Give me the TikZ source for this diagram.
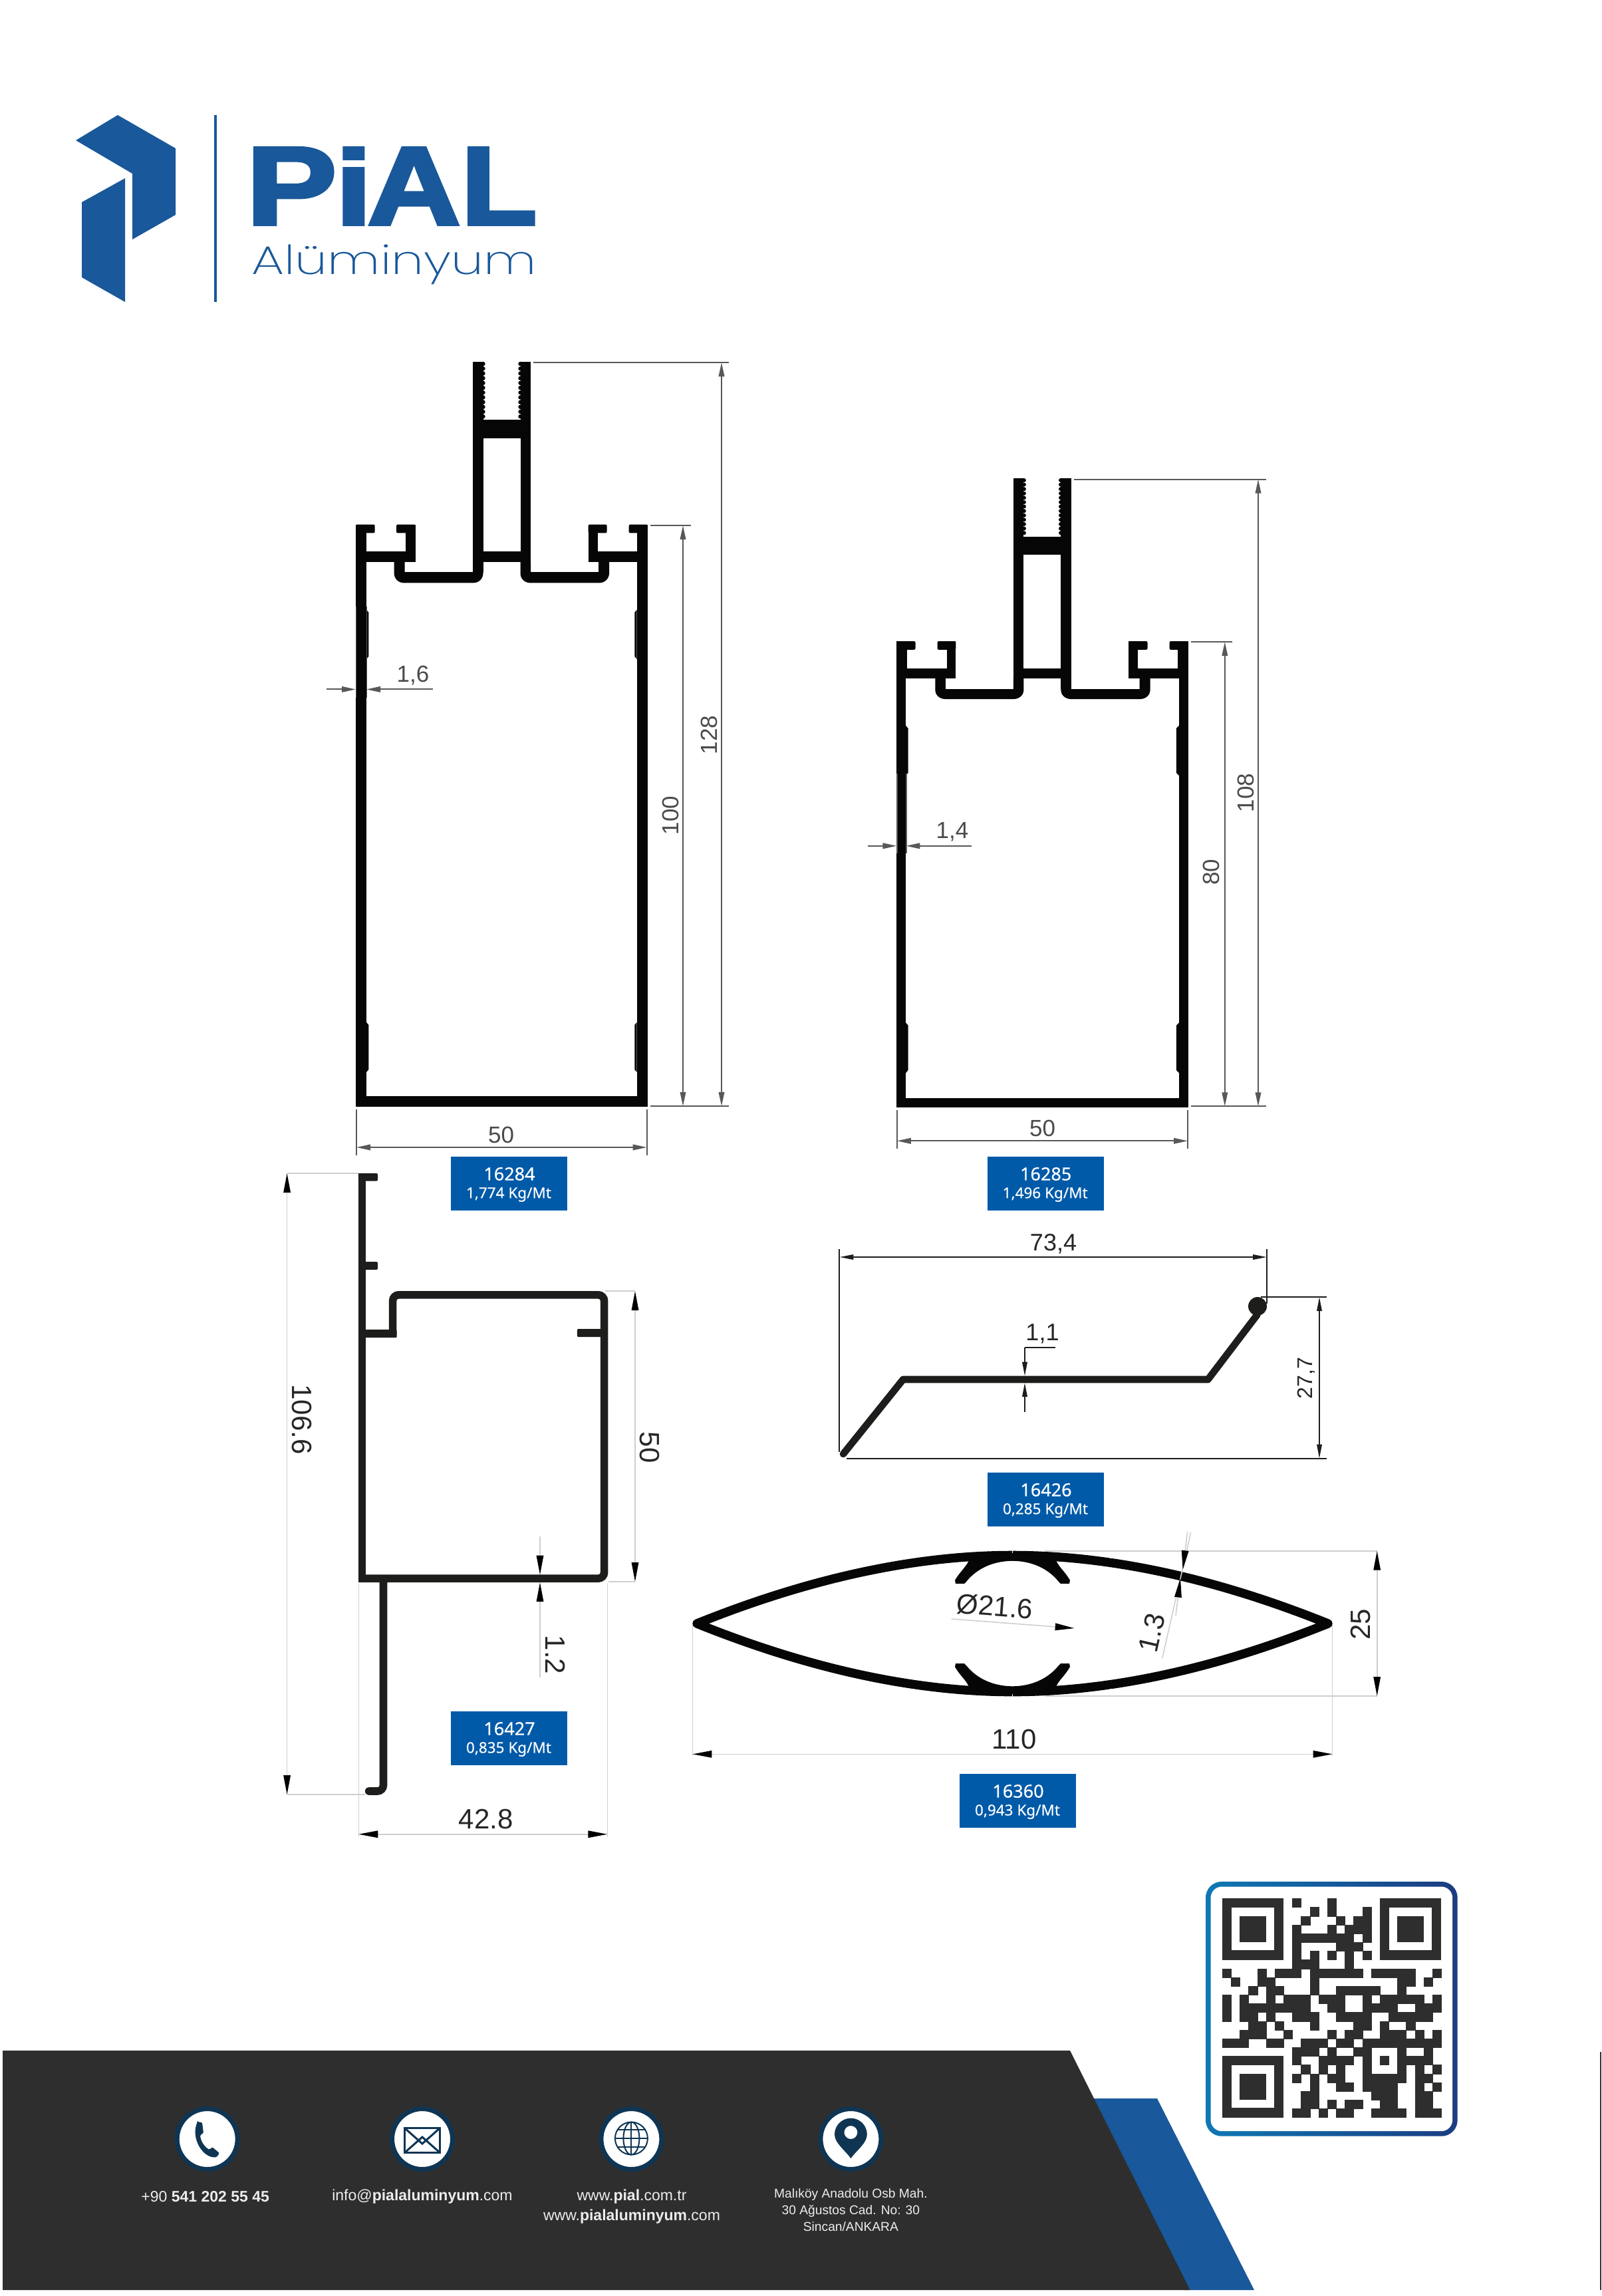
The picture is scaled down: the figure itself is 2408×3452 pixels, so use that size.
\documentclass[tikz,border=0pt]{standalone}
\usepackage{fontspec}
\usepackage{graphicx}
\usetikzlibrary{arrows.meta}
\setmainfont{Liberation Sans}
\newfontfamily\pialfont[FakeBold=3]{Liberation Sans Bold}
\newfontfamily\alufont{Poppins ExtraLight}
\newfontfamily\tagfonta[FakeBold=0.45]{Noto Sans}
\newfontfamily\tagfontb[FakeBold=0.15]{Noto Sans}
\newlength\px \setlength\px{0.02cm}
\newcommand\fs[1]{\fontsize{#1\px}{#1\px}\selectfont}
\definecolor{logoblue}{HTML}{19589A}
\definecolor{tagblue}{HTML}{015AA8}
\definecolor{dimgray}{HTML}{585858}
\definecolor{dimtext}{HTML}{4A4A4A}
\definecolor{lightdim}{HTML}{CFCFCF}
\definecolor{prof}{HTML}{060606}
\definecolor{profb}{HTML}{1D1D1B}
\definecolor{footer}{HTML}{2E2E2E}
\definecolor{navy}{HTML}{0F3553}
\definecolor{qrdark}{HTML}{2E2E2E}
\definecolor{foottext}{HTML}{EDEDED}
\definecolor{qrleft}{HTML}{0E78B4}
\definecolor{qrright}{HTML}{1B3C82}
\newcommand\rc[4]{\fill (#1,#2) rectangle (#3,#4);}
% tray: outer-left, inner-left, inner-right, outer-right, top, trough, bottom
\newcommand\tray[7]{\fill (#1,#5) -- (#1,#6+2) .. controls (#1,#7-7) and (#1+6,#7) .. (#1+15,#7) -- (#4-15,#7) .. controls (#4-6,#7) and (#4,#7-7) .. (#4,#6+2) -- (#4,#5) -- (#3,#5) -- (#3,#6) -- (#2,#6) -- (#2,#5) -- cycle;}
% wall patch: wall face x, protruding x, top, bottom
\newcommand\patch[4]{\fill (#1,#3-4) -- (#2,#3) -- (#2,#4) -- (#1,#4+4) -- cycle;}
\newcommand\finder[2]{%
  \fill[qrdark] (1838+#1*13.17,2854.3+#2*13.17) rectangle +(7*13.17,7*13.17);
  \fill[white] (1838+#1*13.17+14,2854.3+#2*13.17+14) rectangle +(5*13.17-2,5*13.17-2);
  \fill[qrdark] (1838+#1*13.17+26.34,2854.3+#2*13.17+26.34) rectangle +(3*13.17,3*13.17);}
% tag: name, left x, top y, code, weight
\newcommand\tagnote[5]{%
  \node[tagbox] (#1) at (#2,#3) {};
  \node[text=white,inner sep=0pt,font=\tagfonta\fs{27}] (#1a) at (#2+88,#3+26) {#4};
  \node[text=white,inner sep=0pt,font=\tagfontb\fs{22.5}] (#1b) at (#2+87,#3+57) {#5};}
\tikzset{
  gdim/.style={draw=dimgray,line width=2\px},
  gtip/.style={{Triangle[length=11.95pt,width=4.84pt]}-{Triangle[length=11.95pt,width=4.84pt]}},
  gtipe/.style={-{Triangle[length=11.95pt,width=4.84pt]}},
  ldim/.style={draw=lightdim,line width=1.6\px},
  ltip/.style={{Triangle[length=16.5pt,width=5.97pt,color=black]}-{Triangle[length=16.5pt,width=5.97pt,color=black]}},
  ltipe/.style={-{Triangle[length=16.5pt,width=5.97pt,color=black]}},
  bdim/.style={draw=profb,line width=2\px},
  btip/.style={{Triangle[length=11.95pt,width=4.27pt]}-{Triangle[length=11.95pt,width=4.27pt]}},
  btipe/.style={-{Triangle[length=11.95pt,width=4.27pt]}},
  gtext/.style={text=dimtext,font=\fs{35},inner sep=0pt},
  ktext/.style={text=black!85,font=\fs{42},inner sep=0pt},
  btext/.style={text=black!85,font=\fs{36},inner sep=0pt},
  tagbox/.style={fill=tagblue,minimum width=174.5\px,minimum height=80.5\px,inner sep=0pt,anchor=north west},
  foot/.style={text=foottext,font=\fs{23},inner sep=0pt,align=center},
  icondisc/.style={fill=white,draw=navy,line width=7\px},
}
\begin{document}
\begin{tikzpicture}[x=0.02cm,y=-0.02cm]
\useasboundingbox (0,0) rectangle (2408,3452);
\fill[white] (0,0) rectangle (2408,3452);

%------ logo
\begin{scope}[logoblue]
\fill (177,173) -- (264,223) -- (264,323) -- (199,360) -- (199,261) -- (114,211) -- cycle;
\fill (188,268) -- (123,304) -- (123,417) -- (188,454) -- cycle;
\fill (322,173) rectangle (326,454);
\end{scope}
\node[anchor=north west,inner sep=0pt,text=logoblue] (pial) at (370,222) {\pialfont
  \resizebox{136\px}{115\px}{P}\hspace{-2\px}\resizebox{55\px}{115\px}{i}\hspace{-7\px}\resizebox{140\px}{115\px}{A}\hspace{1\px}\resizebox{114\px}{115\px}{L}};
\node[anchor=north west,inner sep=0pt,text=logoblue] (alu) at (378,367) {\resizebox*{428\px}{60\px}{\alufont Alüminyum}};

%------ profile 16284
\begin{scope}[prof]
\rc{535}{788.6}{551}{1664}
\rc{957.6}{788.6}{973.5}{1664}
\rc{535}{1648}{973.5}{1664}
\fill[rounded corners=2\px] (535,788.6) rectangle (563.7,801.4);
\fill[rounded corners=2\px] (596,788.6) rectangle (624.5,801.4);
\rc{610}{788.6}{624.5}{845}
\rc{535}{828.6}{624.5}{845}
\rc{711}{544}{726.5}{860}
\rc{782.5}{544}{798}{860}
\rc{711}{631}{798}{659}
\rc{711}{828.6}{798}{845}
\tray{592.6}{608.6}{711}{726.5}{845}{860}{876.4}
\tray{782.5}{798}{900}{916}{845}{860}{876.4}
\fill[rounded corners=2\px] (884.5,788.6) rectangle (912.6,801.4);
\fill[rounded corners=2\px] (945.7,788.6) rectangle (973.5,801.4);
\rc{884.5}{788.6}{899}{845}
\rc{884.5}{828.6}{973.5}{845}
\patch{551}{554.3}{920.7}{987}
\patch{957.6}{954.3}{920.7}{987}
\patch{551}{554.3}{1541}{1608}
\patch{957.6}{954.3}{1541}{1608}
\foreach \yy in {547,554.2,...,628} {\fill (726.5,\yy) circle[radius=3.2]; \fill (782.5,\yy) circle[radius=3.2];}
\end{scope}
\draw[dimgray,line width=1.5\px] (551.5,912) -- (551.5,1049) (535.3,912) -- (535.3,1049);
% dims
\draw[gdim] (802,545) -- (1096,545) (978,1663) -- (1096,1663) (978,790) -- (1039,790);
\draw[gdim,gtip] (1085,545) -- (1085,1663);
\draw[gdim,gtip] (1027,790) -- (1027,1663);
\node[gtext,rotate=90] (d128) at (1066,1105) {128};
\node[gtext,rotate=90] (d100) at (1008,1226) {100};
\draw[gdim,gtipe] (491,1036.4) -- (535,1036.4);
\draw[gdim,gtipe] (650.6,1036.4) -- (551,1036.4);
\node[gtext] (d16) at (621,1015.5) {1,6};
\draw[gdim] (536,1667.7) -- (536,1736.7) (972.6,1667.7) -- (972.6,1736.7);
\draw[gdim,gtip] (536,1725) -- (972.6,1725);
\node[gtext] (d50a) at (753.5,1706) {50};
\tagnote{t16284}{678}{1739}{16284}{1,774 Kg/Mt}

%------ profile 16285
\begin{scope}[prof]
\rc{1348.4}{964}{1362.2}{1664.7}
\rc{1772.9}{964}{1786.7}{1664.7}
\rc{1348.4}{964}{1364.3}{1010}
\rc{1770.8}{964}{1786.7}{1010}
\rc{1348.4}{1650.7}{1786.7}{1664.7}
\fill[rounded corners=2\px] (1348.4,964) rectangle (1376.5,976.8);
\fill[rounded corners=2\px] (1409.6,964) rectangle (1437.3,976.8);
\rc{1423.5}{964}{1437.3}{1019.5}
\rc{1348.4}{1004.5}{1437.3}{1019.5}
\rc{1523.9}{719}{1539.4}{1036}
\rc{1595.3}{719}{1610.8}{1036}
\rc{1523.9}{806.8}{1610.8}{834.4}
\rc{1523.9}{1004.5}{1610.8}{1019.5}
\tray{1406.3}{1421.8}{1523.9}{1539.4}{1019.5}{1036}{1051}
\tray{1595.3}{1610.8}{1713.7}{1729.6}{1019.5}{1036}{1051}
\fill[rounded corners=2\px] (1697.3,964) rectangle (1725.5,976.8);
\fill[rounded corners=2\px] (1758.6,964) rectangle (1786.7,976.8);
\rc{1697.3}{964}{1711.2}{1019.5}
\rc{1697.3}{1004.5}{1786.7}{1019.5}
\patch{1362.2}{1365.5}{1095}{1162}
\patch{1772.9}{1768.8}{1095}{1162}
\patch{1362.2}{1365.5}{1541.7}{1609}
\patch{1772.9}{1768.8}{1541.7}{1609}
\foreach \yy in {722,728.6,...,806} {\fill (1539.9,\yy) circle[radius=3]; \fill (1595,\yy) circle[radius=3];}
\end{scope}
\draw[dimgray,line width=1.5\px] (1362.8,1163) -- (1362.8,1283) (1348.8,1163) -- (1348.8,1283);
\draw[gdim] (1615,720.6) -- (1903.5,720.6) (1790.8,1663.3) -- (1903.5,1663.3) (1790.8,965) -- (1853,965);
\draw[gdim,gtip] (1892,720.6) -- (1892,1663.3);
\draw[gdim,gtip] (1841.8,965) -- (1841.8,1663.3);
\node[gtext,rotate=90] (d108) at (1873.7,1192) {108};
\node[gtext,rotate=90] (d80) at (1821.6,1311) {80};
\draw[gdim,gtipe] (1304.7,1271.8) -- (1348.4,1271.8);
\draw[gdim,gtipe] (1461.4,1271.8) -- (1362.4,1271.8);
\node[gtext] (d14) at (1432,1250.5) {1,4};
\draw[gdim] (1348.8,1668.7) -- (1348.8,1726.7) (1786,1668.7) -- (1786,1726.7);
\draw[gdim,gtip] (1348.8,1715.3) -- (1786,1715.3);
\node[gtext] (d50b) at (1567.6,1696.7) {50};
\tagnote{t16285}{1484.7}{1739}{16285}{1,496 Kg/Mt}

%------ profile 16427
\begin{scope}[profb]
\fill[rounded corners=2\px] (538.8,1764) rectangle (568,1775.7);
\rc{538.8}{1764}{550.3}{2379}
\fill[rounded corners=2\px] (545,1897) rectangle (568,1909);
\fill[rounded corners=1\px] (545,1999) rectangle (596.5,2011);
\draw[line width=11.6\px,rounded corners=9\px] (590.6,2008) -- (590.6,1946.8) -- (908.6,1946.8) -- (908.6,2373.2) -- (540,2373.2);
\draw[line width=11.6\px,rounded corners=9\px,line cap=round] (576.5,2375) -- (576.5,2693) -- (554.7,2693);
\fill[rounded corners=2\px] (867.8,1998) rectangle (906,2010);
\end{scope}
\draw[ldim] (431.6,1764) -- (539,1764) (431.6,2698) -- (549,2698);
\draw[ldim,ltip] (431.6,1764) -- (431.6,2698);
\node[ktext,rotate=-90] (d1066) at (454,2134) {106.6};
\draw[ldim] (910,1941) -- (955,1941) (915,2378) -- (955,2378);
\draw[ldim,ltip] (955,1941) -- (955,2378);
\node[ktext,rotate=-90] (d50c) at (977,2176) {50};
\draw[ldim,ltipe] (812,2310) -- (812,2367.7);
\draw[ldim,ltipe] (812,2521.7) -- (812,2379);
\node[ktext,rotate=-90] (d12) at (835,2488) {1.2};
\tagnote{t16427}{678}{2573}{16427}{0,835 Kg/Mt}
\draw[ldim] (539.3,2381) -- (539.3,2762) (913.3,2381) -- (913.3,2762);
\draw[ldim,ltip] (539.3,2757.7) -- (913.3,2757.7);
\node[ktext] (d428) at (730.7,2735) {42.8};

%------ profile 16426
\draw[profb,line width=10.6\px,line join=round,line cap=round] (1268,2186) -- (1358,2074) -- (1816.5,2074) -- (1890.5,1976.7);
\fill[profb] (1891,1964) circle[radius=14];
\draw[bdim] (1262.4,1878) -- (1262.4,2183) (1905,1878) -- (1905,1960) (1896,1950) -- (1995,1950) (1273,2192.7) -- (1995,2192.7);
\draw[bdim,btip] (1262.4,1890) -- (1905,1890);
\node[btext] (d734) at (1584,1870) {73,4};
\draw[bdim,btip] (1984,1950) -- (1984,2192.7);
\node[text=black!85,font=\fs{32},inner sep=0pt,rotate=90] (d277) at (1964.5,2072) {27,7};
\draw[bdim] (1587,2025.7) -- (1541,2025.7);
\draw[bdim,btipe] (1541,2025.7) -- (1541,2068.7);
\draw[bdim,btipe] (1541,2123) -- (1541,2079);
\node[btext] (d11) at (1567.5,2005.5) {1,1};
\tagnote{t16426}{1485}{2214}{16426}{0,285 Kg/Mt}

%------ profile 16360
\begin{scope}[prof]
\draw[line width=13.4\px,line join=round] (1048,2441) .. controls (1222,2371) and (1380,2338.4) .. (1522.5,2338.4) .. controls (1665,2338.4) and (1823,2371) .. (1997,2441) .. controls (1823,2511) and (1665,2543.6) .. (1522.5,2543.6) .. controls (1380,2543.6) and (1222,2511) .. (1048,2441) -- cycle;
\fill (1457,2340) .. controls (1460,2350) and (1445,2360) .. (1436,2376) -- (1437,2381) -- (1450,2381) -- (1453,2378) .. controls (1470,2357) and (1495,2347) .. (1522.5,2346.7) .. controls (1550,2347) and (1575,2357) .. (1592,2378) -- (1595,2381) -- (1608,2381) -- (1609,2376) .. controls (1600,2360) and (1585,2350) .. (1588,2340) -- cycle;
\fill (1457,2542) .. controls (1460,2532) and (1445,2522) .. (1436,2506) -- (1437,2501) -- (1450,2501) -- (1453,2504) .. controls (1470,2525) and (1495,2535) .. (1522.5,2535.3) .. controls (1550,2535) and (1575,2525) .. (1592,2504) -- (1595,2501) -- (1608,2501) -- (1609,2506) .. controls (1600,2522) and (1585,2532) .. (1588,2542) -- cycle;
\end{scope}
\draw[white,line width=1.5\px] (1198.6,2375) -- (1198.6,2379) (1372.9,2339) -- (1372.9,2343) (1522.5,2331) -- (1522.5,2335) (1670,2339) -- (1670,2343) (1845.7,2375) -- (1845.7,2379)
 (1198.6,2503) -- (1198.6,2507) (1372.9,2539) -- (1372.9,2543) (1522.5,2547) -- (1522.5,2551) (1670,2539) -- (1670,2543) (1845.7,2503) -- (1845.7,2507);
\draw[ldim] (1571,2331.7) -- (2070.7,2331.7) (1571,2550) -- (2070.7,2550);
\draw[ldim,ltip] (2070.7,2331.7) -- (2070.7,2550);
\node[ktext,rotate=90] (d25) at (2046,2442) {25};
\draw[ldim] (1041.4,2443) -- (1041.4,2640) (2003.6,2443) -- (2003.6,2640);
\draw[ldim,ltip] (1041.4,2637.3) -- (2003.6,2637.3);
\node[ktext] (d110) at (1525,2615) {110};
\draw[ldim,ltipe] (1430.7,2434) -- (1615.7,2448);
\node[ktext,rotate=-4.3] (d216) at (1496,2415) {Ø21.6};
\draw[ldim] (1790.7,2304) -- (1747.8,2493);
\draw[ldim,ltipe] (1785.7,2331.7-29) -- (1778.6,2360);
\draw[ldim,ltipe] (1768,2400+29) -- (1775,2372.7);
\node[ktext,rotate=77] (d13) at (1732,2455) {1.3};
\tagnote{t16360}{1443}{2667}{16360}{0,943 Kg/Mt}

%------ QR code
\shade[left color=qrleft,right color=qrright,rounded corners=24\px] (1813,2829) rectangle (2191.7,3211.7);
\fill[white,rounded corners=17\px] (1820.5,2836.5) rectangle (2184.2,3204.2);
\finder{0}{0}\finder{18}{0}\finder{0}{18}
\foreach \r/\cs in {0/{8,12},1/{10,12,16},2/{9,13,15,16},3/{8,12,14,15,16},4/{8,9,10,11,12,13,14,16},
 5/{8,13,14,15},6/{8,10,12,14,16},7/{8,9,10,14},8/{0,4,6,7,8,10,11,12,13,14,15,17,18,19,20,21,24},
 9/{1,4,5,10,20,21,23},10/{3,5,6,10,13,14,15,16,17,20},11/{0,2,5,7,8,9,11,12,13,16,18,19,20,21,22,24},
 12/{0,2,3,4,5,6,7,8,9,12,13,16,17,18,19,22,23,24},13/{0,2,3,5,8,9,10,13,14,15,16,19,20,21,22,23},
 14/{3,4,6,10,15,16,18,21},15/{2,3,4,7,12,14,15,18,19,20,22,24},
 16/{0,1,2,5,6,9,10,11,13,14,16,17,18,19,20,21,22,23,24},17/{8,9,10,12,15,16,20,23},
 18/{8,11,12,13,14,16,18,20,21,22,23},19/{9,11,13,16,20,22,24},20/{8,10,12,13,16,17,18,19,20,22,23},
 21/{10,13,14,16,17,18,19,22,24},22/{9,10,17,18,19,22,23},23/{9,10,12,14,15,18,19,22,23},
 24/{8,9,11,13,14,17,18,19,20,22,23,24}}{
  \foreach \c in \cs {\fill[qrdark,draw=qrdark,line width=0.3\px] (1838+\c*13.17,2854.3+\r*13.17) rectangle +(13.17,13.17);}
}

%------ footer
\fill[logoblue] (1640,3155) -- (1740,3155) -- (1886,3443) -- (1780,3443) -- cycle;
\fill[footer] (4,3083) -- (1609,3083) -- (1789.5,3443) -- (4,3443) -- cycle;
\draw[black!80,line width=1.5\px] (2406.8,3085) -- (2406.8,3443);
\foreach \cx in {311.7,635,949.4,1279.4} {\fill[icondisc] (\cx,3216) circle[radius=45.5];}
% phone
\fill[navy,rounded corners=1.5\px] (297,3190) -- (304,3191) -- (306,3207) -- (301,3210) .. controls (302,3220) and (308,3228) .. (315,3232) -- (319,3228) -- (330,3237) -- (326,3243) .. controls (306,3246) and (286,3215) .. (297,3190) -- cycle;
% envelope
\draw[navy,line width=3.5\px] (608.5,3199.5) rectangle (661.5,3236.5);
\draw[navy,line width=3\px] (608.5,3199.5) -- (635,3223) -- (661.5,3199.5) (608.5,3236.5) -- (635,3213) -- (661.5,3236.5);
% globe
\begin{scope}[navy,line width=2\px]
\draw (949.4,3215) circle[radius=24.5];
\draw (949.4,3215) ellipse[x radius=12,y radius=24.5];
\draw (949.4,3190.5) -- (949.4,3239.5) (925,3215) -- (974,3215);
\draw (929,3202) -- (970,3202) (929,3228) -- (970,3228);
\end{scope}
% pin
\fill[navy,even odd rule] (1279.4,3245) .. controls (1270,3232) and (1255,3222) .. (1255,3209) arc[start angle=180,end angle=360,radius=24.4] .. controls (1303.8,3222) and (1289,3232) .. (1279.4,3245) -- cycle (1279.4,3206) circle[radius=10];
\node[foot] (ftel) at (308.7,3303) {+90 \textbf{541 202 55 45}};
\node[foot] (fmail) at (635,3303) {info@\textbf{pialaluminyum}.com};
\node[foot] (fweb) at (950,3318) {www.\textbf{pial}.com.tr\\[7\px]www.\textbf{pialaluminyum}.com};
\node[foot,font=\fs{19.2}] (fadr) at (1279.4,3323) {Malıköy Anadolu Osb Mah.\\[5.8\px]30 Ağustos Cad. No: 30\\[5.8\px]Sincan/ANKARA};
\end{tikzpicture}
\end{document}
